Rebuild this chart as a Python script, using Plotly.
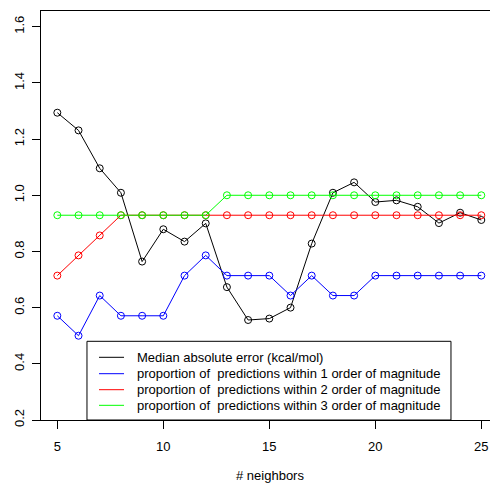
import plotly.graph_objects as go

neighbors = list(range(5, 26))
median_abs_error = [1.294, 1.231, 1.096, 1.009, 0.764, 0.879, 0.835, 0.900, 0.673, 0.556,
                    0.561, 0.600, 0.828, 1.009, 1.046, 0.976, 0.982, 0.959, 0.901, 0.938, 0.912]
within_1 = [0.571, 0.500, 0.643, 0.571, 0.571, 0.571, 0.714, 0.786, 0.714, 0.714,
            0.714, 0.643, 0.714, 0.643, 0.643, 0.714, 0.714, 0.714, 0.714, 0.714, 0.714]
within_2 = [0.714, 0.786, 0.857, 0.929, 0.929, 0.929, 0.929, 0.929, 0.929, 0.929,
            0.929, 0.929, 0.929, 0.929, 0.929, 0.929, 0.929, 0.929, 0.929, 0.929, 0.929]
within_3 = [0.929, 0.929, 0.929, 0.929, 0.929, 0.929, 0.929, 0.929, 1.0, 1.0,
            1.0, 1.0, 1.0, 1.0, 1.0, 1.0, 1.0, 1.0, 1.0, 1.0, 1.0]

series = [
    ("Median absolute error (kcal/mol)", median_abs_error, "#000000"),
    ("proportion of\u00a0 predictions within 1 order of magnitude", within_1, "#0000FF"),
    ("proportion of\u00a0 predictions within 2 order of magnitude", within_2, "#FF0000"),
    ("proportion of\u00a0 predictions within 3 order of magnitude", within_3, "#00FF00"),
]

x_ticks = [5, 10, 15, 20, 25]
y_ticks = [0.2, 0.4, 0.6, 0.8, 1.0, 1.2, 1.4, 1.6]
y_labels = ["0.2", "0.4", "0.6", "0.8", "1.0", "1.2", "1.4", "1.6"]

FONT = "Liberation Sans, Arial, sans-serif"
FS = 13

fig = go.Figure()
for name, vals, col in series:
    fig.add_trace(go.Scatter(
        x=neighbors, y=vals, mode="lines+markers", showlegend=False,
        line=dict(color=col, width=1),
        marker=dict(symbol="circle-open", size=7, color=col, line=dict(width=1, color=col)),
    ))

# Manual legend box (R-style), in paper coordinates of the plot area
shapes = [dict(type="rect", xref="paper", yref="paper", x0=0.1024, x1=0.9131, y0=0.0, y1=0.1924,
               line=dict(color="#000", width=1), fillcolor="white", layer="above")]
annotations = []
row_y = [0.1533, 0.1132, 0.0741, 0.0359]
for (name, vals, col), ry in zip(series, row_y):
    shapes.append(dict(type="line", xref="paper", yref="paper", x0=0.1292, x1=0.1849, y0=ry, y1=ry,
                       line=dict(color=col, width=1), layer="above"))
    annotations.append(dict(text=name, xref="paper", yref="paper", x=0.2094, y=ry,
                            xanchor="left", yanchor="middle", showarrow=False,
                            font=dict(family=FONT, size=FS, color="#000")))

annotations.append(dict(
    text="# neighbors", xref="x", x=15.03, yref="paper", y=0, yshift=-55,
    xanchor="center", yanchor="middle", showarrow=False,
    font=dict(family=FONT, size=FS, color="#000"),
))

fig.update_layout(
    width=490, height=483,
    margin=dict(l=41, r=0, t=11, b=63),
    paper_bgcolor="white", plot_bgcolor="white",
    font=dict(family=FONT, size=FS, color="#000"),
    showlegend=False,
    xaxis=dict(
        range=[4.23, 25.41], tickvals=x_ticks, ticktext=[str(v) for v in x_ticks],
        showgrid=False, zeroline=False, showline=True, mirror=True,
        linecolor="#000", linewidth=1, ticks="outside", ticklen=8, tickcolor="#000",
        ticklabelstandoff=6,
    ),
    yaxis=dict(
        range=[0.2, 1.656], tickvals=y_ticks, ticktext=y_labels, tickangle=-90,
        showgrid=False, zeroline=False, showline=True, mirror=False,
        linecolor="#000", linewidth=1, ticks="outside", ticklen=8, tickcolor="#000",
        ticklabelstandoff=3,
    ),
    shapes=shapes,
    annotations=annotations,
)

fig.write_html("out.html")
